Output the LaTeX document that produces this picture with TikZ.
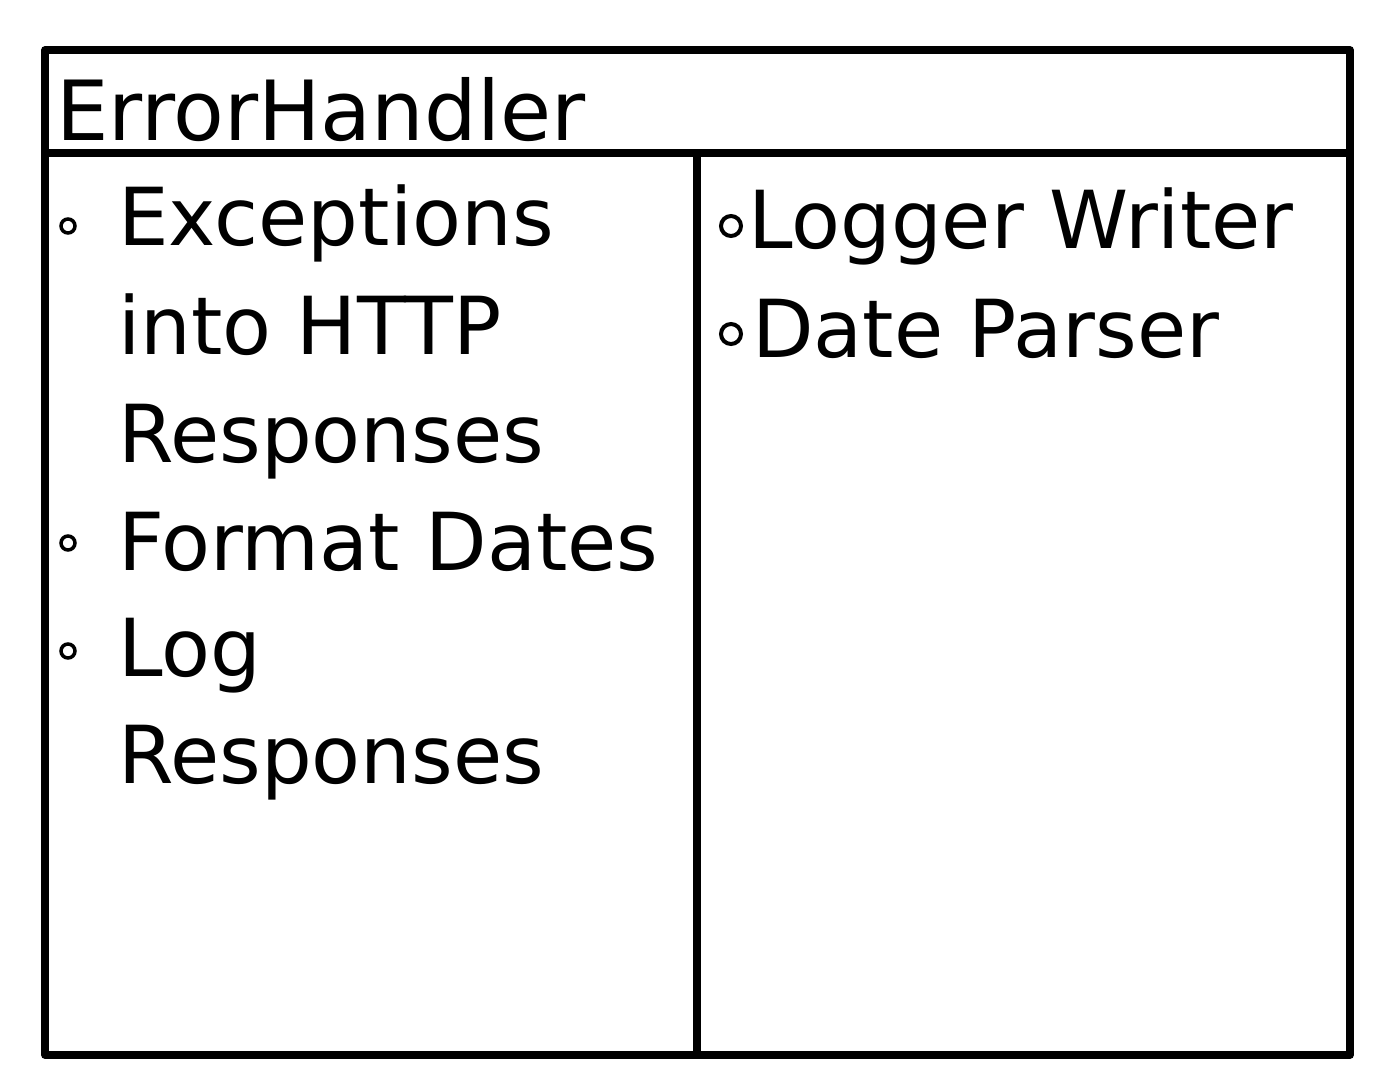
\documentclass[tikz,border=0pt]{standalone}
\usepackage{fontspec}
\setmainfont{DejaVu Sans}
\begin{document}
\begin{tikzpicture}[x=1pt,y=-1pt,
  frame/.style={line width=7.5pt,line cap=round,line join=round},
  txt/.style={anchor=base west,inner sep=0pt,font=\fontsize{80}{90}\selectfont},
  head/.style={anchor=base west,inner sep=0pt,font=\fontsize{83}{90}\selectfont},
  bulL/.style={draw,circle,line width=3.5pt,minimum size=14pt,inner sep=0pt},
  bulR/.style={draw,circle,line width=4pt,minimum size=20pt,inner sep=0pt}]
\useasboundingbox (0,0) rectangle (1382,1088);
\coordinate (tl) at (45,50);
\coordinate (br) at (1350,1055);
\coordinate (hl) at (45,153);
\coordinate (hr) at (1350,153);
\coordinate (dt) at (697,153);
\coordinate (db) at (697,1055);
\draw[frame] (tl) rectangle (br);
\draw[frame] (hl) -- (hr);
\draw[frame] (dt) -- (db);
\node[head] (title) at (56,140) {ErrorHandler};
% left column
\node[bulL] (b1) at (68,226) {};
\node[txt] (t1) at (118,245) {Exceptions};
\node[txt] (t2) at (118,354) {into HTTP};
\node[txt] (t3) at (118,462) {Responses};
\node[bulL] (b2) at (68,543) {};
\node[txt] (t4) at (118,570) {Format Dates};
\node[bulL] (b3) at (68,651) {};
\node[txt] (t5) at (118,676) {Log};
\node[txt] (t6) at (118,783) {Responses};
% right column
\node[bulR] (b4) at (731,226) {};
\node[txt] (r1) at (748,248) {Logger Writer};
\node[bulR] (b5) at (731,334) {};
\node[txt] (r2) at (752,357) {Date Parser};
\end{tikzpicture}
\end{document}
